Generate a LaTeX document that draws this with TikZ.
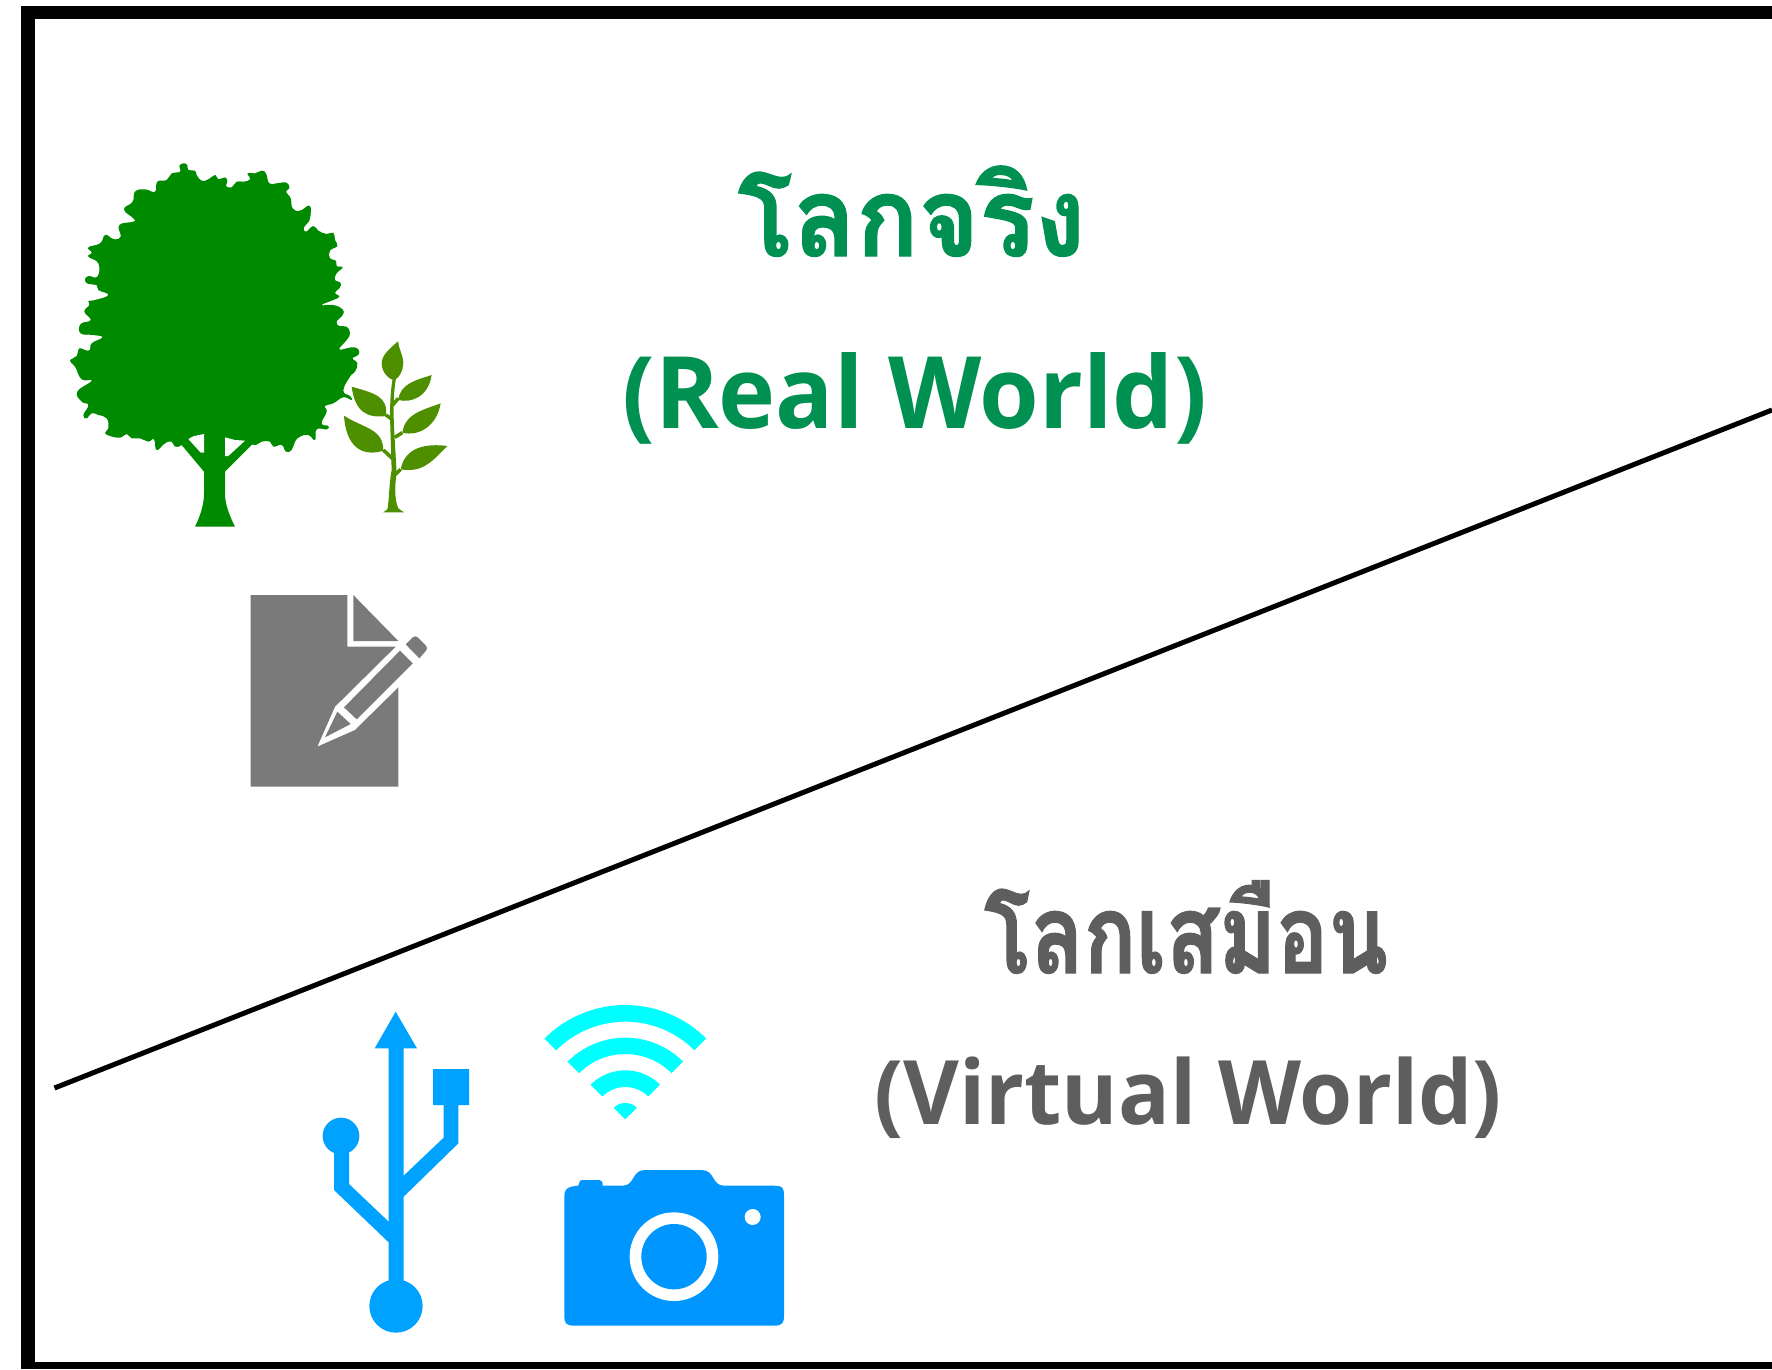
\documentclass[tikz,border=0pt]{standalone}
\usepackage{fontspec}
\newfontfamily\thaiA[Script=Thai,FakeStretch=0.94,BoldFeatures={FakeBold=1.2}]{Loma}
\newfontfamily\thaiB[Script=Thai,FakeStretch=0.79,BoldFeatures={FakeBold=1.2}]{Loma}
\newfontfamily\latinfont[FakeStretch=0.965]{Open Sans}
\definecolor{treeg}{HTML}{008A00}
\definecolor{plantg}{HTML}{4E8F00}
\definecolor{docg}{HTML}{7A7A7A}
\definecolor{usbb}{HTML}{00A2FF}
\definecolor{wific}{HTML}{00FFFF}
\definecolor{camb}{HTML}{0096FF}
\definecolor{txtg}{HTML}{009051}
\definecolor{txtd}{HTML}{5E5E5E}
\tikzset{
  lbl/.style={inner sep=0pt,anchor=base},
  zoomA/.style={shift={(50pt,-140pt)},scale=0.33333},
  zoomB/.style={shift={(230pt,-580pt)},scale=0.33333},
  zoomC/.style={shift={(300pt,-990pt)},scale=0.33333},
}
\begin{document}
\begin{tikzpicture}[x=1pt,y=-1pt]
\useasboundingbox (0,0) rectangle (1772,1369);
% frame
\fill[black] (21,6) rectangle (1772,19);
\fill[black] (21,6) rectangle (34.5,1369);
\fill[black] (21,1362) rectangle (1772,1369);
% divider
\coordinate (divA) at (54.5,1088);
\coordinate (divB) at (1772,410);
\draw[black,line width=5pt] (divA) -- (divB);
% tree
\begin{scope}[zoomA]
\fill[treeg] plot[smooth cycle,tension=0.8] coordinates {
(400,70)(412,75)(415,90)(435,92)(440,105)(455,122)(475,118)(495,105)(505,118)(525,112)(532,125)(528,138)(545,142)(560,125)(580,125)(600,118)(593,100)(615,100)(635,92)(648,100)(658,130)(680,130)(710,128)(718,145)(708,155)(722,175)(728,205)(750,212)(778,197)(782,225)(778,243)(762,262)(768,275)(790,258)(805,272)(830,282)(850,278)(855,300)(862,318)(840,332)(840,355)(858,362)(860,378)(878,382)(860,400)(855,420)(872,428)(868,445)(855,458)(868,470)(850,480)(815,495)(850,495)(878,508)(878,525)(860,545)(868,558)(890,560)(900,580)(890,600)(868,628)(905,622)(925,628)(925,645)(908,655)(922,670)(915,695)(900,710)(880,752)(900,768)(905,780)(880,772)(850,790)(825,798)(830,815)(815,850)(835,858)(830,868)(800,868)(795,900)(775,885)(750,890)(735,905)(725,930)(708,935)(695,915)(670,920)(660,905)(635,905)(612,915)(580,900)(540,890)(500,900)(450,885)(415,895)(395,915)(375,920)(365,905)(345,910)(320,930)(312,898)(295,905)(270,895)(245,895)(230,882)(210,893)(180,888)(165,878)(175,865)(170,835)(145,825)(125,820)(110,835)(100,825)(115,795)(95,785)(82,755)(125,722)(95,718)(75,680)(60,662)(80,648)(88,625)(105,630)(120,630)(125,610)(157,592)(130,585)(92,580)(92,552)(122,540)(103,515)(118,495)(115,483)(135,480)(175,465)(145,450)(140,435)(115,432)(105,420)(115,408)(142,410)(145,370)(115,350)(125,338)(115,322)(150,310)(165,285)(185,295)(195,298)(212,290)(208,255)(250,245)(250,235)(222,208)(248,185)(255,155)(285,148)(315,155)(322,125)(350,120)(365,100)(390,95)(388,78)};
% trunk and branches
\fill[treeg] (612,908) -- (525,995) -- (525,1060) .. controls (525,1095) and (540,1130) .. (555,1160) -- (435,1160) .. controls (450,1130) and (462,1095) .. (462,1060) -- (462,995) -- (395,915) -- (420,880) -- (560,880) -- cycle;
\fill[white] (415,897) -- (432,888) -- (462,882) -- (462,938) -- (452,938) -- cycle;
\fill[white] (525,892) -- (555,900) -- (585,902) -- (535,948) -- (525,948) -- cycle;
% plant
\fill[plantg] (1000,1117) -- (1012,1108) .. controls (1018,1080) and (1016,1040) .. (1025,990) -- (1020,830) .. controls (1020,790) and (1022,750) .. (1028,715) -- (1038,715) .. controls (1030,760) and (1030,810) .. (1032,860) -- (1040,1000) .. controls (1032,1050) and (1036,1085) .. (1045,1105) -- (1062,1117) -- cycle;
\draw[plantg,line width=3.5pt] (1045,775) -- (1028,795) (1008,825) -- (1026,838) (1057,878) -- (1034,892) (1000,930) -- (1030,958) (1052,988) -- (1034,1005);
\fill[plantg] (1044,604) .. controls (1020,625) and (995,645) .. (995,670) .. controls (995,700) and (1020,718) .. (1030,720) .. controls (1045,718) and (1060,695) .. (1060,665) .. controls (1058,645) and (1048,630) .. (1044,604) -- cycle;
\fill[plantg] (1045,780) .. controls (1050,730) and (1100,720) .. (1145,705) .. controls (1135,770) and (1085,790) .. (1045,780) -- cycle;
\fill[plantg] (905,740) .. controls (975,760) and (1015,770) .. (1008,828) .. controls (950,835) and (915,815) .. (905,740) -- cycle;
\fill[plantg] (1057,878) .. controls (1065,820) and (1120,810) .. (1172,790) .. controls (1160,860) and (1105,890) .. (1057,878) -- cycle;
\fill[plantg] (882,827) .. controls (890,945) and (960,945) .. (1000,932) .. controls (1000,865) and (940,865) .. (882,827) -- cycle;
\fill[plantg] (1052,988) .. controls (1065,920) and (1130,910) .. (1192,918) .. controls (1150,960) and (1120,1000) .. (1052,988) -- cycle;
\end{scope}
% document
\begin{scope}[zoomB]
\fill[docg] (62,45) -- (352,45) -- (352,200) -- (497,200) -- (315,380) -- (262,500) -- (375,450) -- (505,322) -- (505,620) -- (62,620) -- cycle;
\fill[docg] (370,45) -- (505,183) -- (370,183) -- cycle;
\fill[docg] (285,472) -- (322,395) -- (362,432) -- cycle;
\fill[docg] (342,382) -- (510,212) -- (548,250) -- (380,418) -- cycle;
\fill[docg] (527,193) -- (548,172) .. controls (553,168) and (558,168) .. (563,172) -- (588,197) .. controls (592,202) and (592,208) .. (588,212) -- (568,235) -- cycle;
\end{scope}
% usb, wifi, camera
\begin{scope}[zoomC]
\fill[usbb] (287,65) -- (351,175) -- (311,175) -- (311,557) -- (431,443) -- (431,345) -- (399,345) -- (399,237) -- (507,237) -- (507,345) -- (475,345) -- (475,460) -- (311,620) -- (311,880) -- (266,880) -- (266,757) -- (102,600) -- (102,480) -- (147,480) -- (147,582) -- (266,695) -- (266,175) -- (224,175) -- cycle;
\fill[usbb] (288,948) circle[radius=80];
\fill[usbb] (123,438) circle[radius=55];
\foreach \ro/\ri in {343/293,245/196,147/97}{
  \fill[wific] plot[domain=225:315,samples=40] ({976+\ro*cos(\x)},{388+\ro*sin(\x)}) -- plot[domain=315:225,samples=40] ({976+\ri*cos(\x)},{388+\ri*sin(\x)}) -- cycle;
}
\fill[wific] (976,388) -- plot[domain=225:315,samples=20] ({976+49*cos(\x)},{388+49*sin(\x)}) -- cycle;
\fill[camb] (793,620) .. controls (793,600) and (797,590) .. (835,587) -- (837,580) .. controls (838,572) and (842,570) .. (848,570) -- (898,570) .. controls (905,570) and (908,575) .. (908,587) -- (970,587) .. controls (1005,585) and (995,540) .. (1035,540) -- (1205,540) .. controls (1245,540) and (1235,587) .. (1272,587) -- (1420,587) .. controls (1448,588) and (1452,590) .. (1452,620) -- (1452,975) .. controls (1452,1000) and (1448,1007) .. (1420,1007) -- (825,1007) .. controls (797,1007) and (793,1000) .. (793,975) -- cycle;
\fill[white] (1122,800) circle[radius=133];
\fill[camb] (1122,800) circle[radius=98];
\fill[white] (1358,681) circle[radius=24];
\end{scope}
% labels
\node[lbl,text=txtg,font=\thaiA\bfseries\fontsize{110}{110}\selectfont] (real1) at (911.5,256) {โลกจริง};
\node[lbl,text=txtg,font=\latinfont\bfseries\fontsize{100}{100}\selectfont] (real2) at (914.5,428) {(Real World)};
\node[lbl,text=txtd,font=\thaiB\bfseries\fontsize{110}{110}\selectfont] (virt1) at (1186,973) {โลกเสมือน};
\node[lbl,text=txtd,font=\latinfont\bfseries\fontsize{89}{89}\selectfont] (virt2) at (1188,1124) {(Virtual World)};
\end{tikzpicture}
\end{document}
